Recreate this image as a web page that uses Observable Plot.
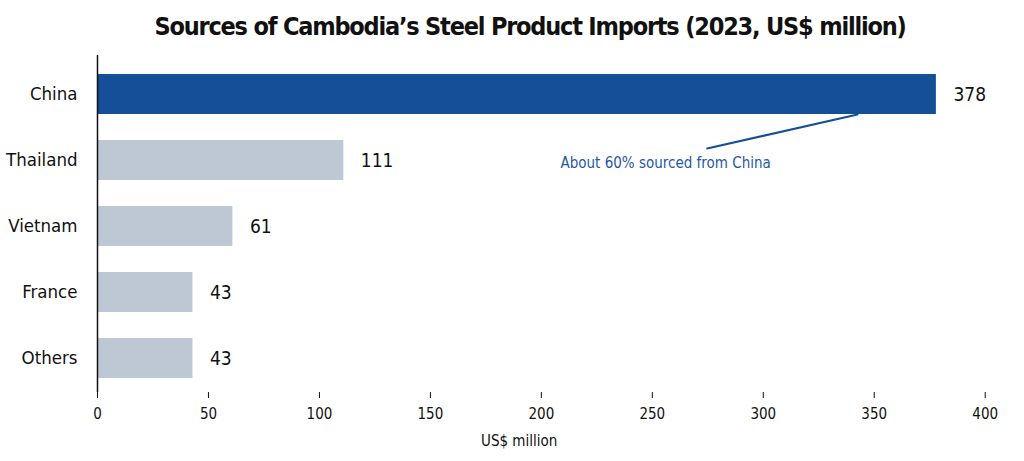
<!DOCTYPE html>
<html>
<head>
<meta charset="utf-8">
<script src="https://cdn.jsdelivr.net/npm/d3@7"></script>
<script src="https://cdn.jsdelivr.net/npm/@observablehq/plot@0.6"></script>
<style>
  html, body { margin: 0; padding: 0; background: #fff; }
  #title {
    box-sizing: border-box; width: 1024px; height: 50px; line-height: 54px;
    padding-left: 36px; text-align: center;
    font-family: "DejaVu Sans Condensed", "DejaVu Sans", sans-serif;
    font-stretch: condensed; font-weight: bold; font-size: 25px;
    letter-spacing: -1.2px; color: #111;
  }
  #chart svg { display: block; }
</style>
</head>
<body>
<div id="title">Sources of Cambodia’s Steel Product Imports (2023, US$ million)</div>
<div id="chart"></div>
<script>
// Import sources, 2023 (US$ million)
const countries = ["China", "Thailand", "Vietnam", "France", "Others"];
const values = [378, 111, 61, 43, 43];
const highlight = "China";
const xTicks = [0, 50, 100, 150, 200, 250, 300, 350, 400];
const noteText = "About 60% sourced from China";
const axisLabel = "US$ million";

const data = countries.map((c, i) => ({country: c, value: values[i]}));

const font = "'DejaVu Sans Condensed', 'DejaVu Sans', sans-serif";
const blue = "#154f97";
const grey = "#bec7d4";

const chart = Plot.plot({
  width: 1024,
  height: 411,
  marginTop: 5,
  marginLeft: 97,
  marginRight: 6,
  marginBottom: 69,
  style: {fontFamily: font, fontSize: "15px", color: "#111", background: "#fff"},
  x: {domain: [0, 415], ticks: xTicks, tickSize: 6, label: null, line: true},
  y: {domain: countries, paddingInner: 0.4, paddingOuter: 0.2, insetTop: 5, label: null},
  marks: [
    Plot.barX(data, {
      x: "value", y: "country",
      fill: d => d.country === highlight ? blue : grey
    }),
    Plot.ruleX([0], {stroke: "#111", strokeWidth: 1.5}),
    Plot.text(data, {
      x: "value", y: "country", text: d => String(d.value),
      textAnchor: "start", dx: 17, fontSize: 19, fill: "#111"
    }),
    Plot.axisY({tickSize: 0, tickPadding: 20, fontSize: 18.5, label: null}),
    Plot.axisX({ticks: xTicks, tickSize: 6, tickPadding: 10, fontSize: 15, label: null}),
    // callout: a straight leader from the China bar's lower edge down to the note
    Plot.arrow([{x1: 382, x2: 251}], {
      x1: "x1", x2: "x2", y1: () => "China", y2: () => "Thailand",
      bend: 0, headLength: 0, insetStart: 90, insetEnd: 54,
      stroke: blue, strokeWidth: 2
    }),
    Plot.text([noteText], {
      x: 256, y: () => "Thailand", text: d => d, dy: 3,
      fill: "#1f58a6", fontSize: 15
    }),
    Plot.text([axisLabel], {
      x: 190, frameAnchor: "bottom", text: d => d, dy: 53,
      fontSize: 15, fill: "#111"
    })
  ]
});

document.getElementById("chart").appendChild(chart);
</script>
</body>
</html>
